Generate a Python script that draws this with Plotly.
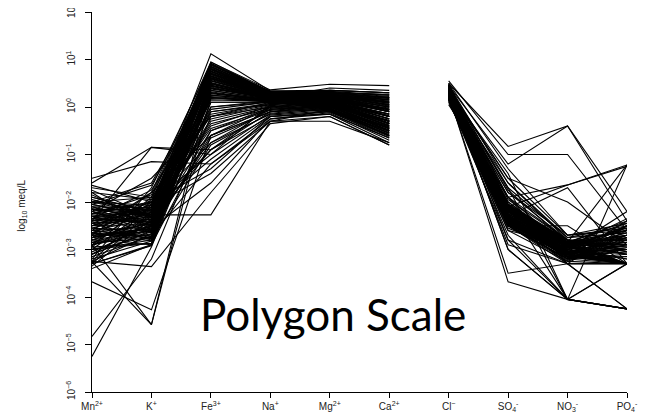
import plotly.graph_objects as go

# Categories (ions) and tick labels
ions = ["Mn2+", "K+", "Fe3+", "Na+", "Mg2+", "Ca2+", "Cl-", "SO4-", "NO3-", "PO4-"]
ion_labels = ["Mn<sup>2+</sup>", "K<sup>+</sup>", "Fe<sup>3+</sup>", "Na<sup>+</sup>",
              "Mg<sup>2+</sup>", "Ca<sup>2+</sup>", "Cl<sup>−</sup>",
              "SO<sub>4</sub><sup>-</sup>", "NO<sub>3</sub><sup>-</sup>", "PO<sub>4</sub><sup>-</sup>"]
y_exponents = [-6, -5, -4, -3, -2, -1, 0, 1, 2]
y_labels = ["10<sup>" + (str(e) if e >= 0 else "−" + str(-e)) + "</sup>" for e in y_exponents]

# log10 meq/L per sample
mn = [-2.4, -2.6, -2.1, -3.0, -2.8, -2.2, -1.9, -3.2, -2.5, -2.7,
      -2.3, -2.9, -2.0, -3.3, -2.45, -2.65, -2.15, -2.85, -2.35, -3.1,
      -2.55, -2.75, -2.05, -2.95, -2.25, -2.6, -3.05, -2.4, -2.7, -1.95,
      -2.5, -2.8, -2.2, -3.15, -2.35, -2.65, -2.1, -2.9, -2.45, -3.25,
      -2.3, -2.75, -2.0, -2.6, -2.85, -2.15, -3.0, -2.4, -2.55, -2.25,
      -2.5, -2.8, -2.2, -3.1, -2.4, -2.7, -2.0, -2.9, -2.3, -2.6,
      -3.3, -2.45, -2.15, -2.75, -1.8, -3.0, -2.35, -2.65, -2.05, -2.9,
      -1.5, -2.4, -1.6, -5.25, -4.83, -3.68, -3.26, -2.9, -3.25, -2.0,
      -1.7, -3.4, -2.0, -2.6, -1.8, -2.9, -2.2, -3.35, -1.65, -2.45,
      -3.2, -2.1, -2.75, -1.9, -3.0, -2.35, -2.8, -1.75, -3.3, -2.25,
      -2.65, -2.05, -3.1, -2.5, -1.85, -2.95, -2.3, -3.25, -2.15, -2.7]
k = [-2.32, -2.52, -2.12, -2.72, -2.42, -2.62, -2.22, -2.82, -2.12, -2.57,
     -2.37, -2.67, -2.07, -2.92, -2.27, -2.47, -2.17, -2.77, -2.42, -2.62,
     -2.22, -2.52, -2.32, -2.87, -2.02, -2.72, -2.47, -2.17, -2.62, -2.27,
     -2.47, -2.32, -2.52, -2.72, -2.12, -2.82, -2.42, -2.57, -2.37, -2.67,
     -2.22, -2.42, -2.17, -2.77, -2.52, -2.32, -2.87, -2.07, -2.62, -2.27,
     -2.3, -2.6, -2.0, -2.4, -2.2, -2.7, -1.9, -2.5, -2.1, -2.35,
     -2.9, -2.0, -2.25, -2.55, -1.95, -2.8, -2.45, -2.15, -2.3, -2.6,
     -1.15, -0.85, -0.85, -2.95, -3.2, -4.27, -4.58, -4.58, -3.36, -2.27,
     -1.9, -2.9, -1.6, -1.8, -2.6, -2.0, -1.5, -2.35, -2.0, -2.8,
     -1.7, -2.45, -1.95, -2.2, -2.1, -1.75, -2.9, -2.3, -2.2, -1.85,
     -2.75, -1.65, -2.6, -2.05, -2.4, -1.9, -2.65, -2.05, -2.5, -1.8]
fe = [0.8, 0.6, 0.9, 0.5, 0.7, 0.3, 0.85, 0.4, 1.12, 0.2,
      0.65, 0.55, 0.75, 0.35, 0.88, 0.45, 0.7, 0.25, 0.6, 0.5,
      0.82, 0.15, 0.68, 0.42, 0.92, 0.58, 0.28, 0.78, 0.48, 0.62,
      0.72, 0.38, 0.86, 0.52, 0.66, 0.32, 0.9, 0.44, 0.76, 0.18,
      0.8, 0.46, 0.94, 0.56, 0.3, 0.74, 0.4, 0.84, 0.22, 0.64,
      -0.3, -0.6, -0.1, -0.9, -0.45, -1.2, -0.2, -0.75, -1.4, 0.0,
      -0.5, -1.0, -0.35, -1.6, -0.15, -0.8, -0.05, -1.1, -0.25, -0.65,
      -1.2, -1.0, -0.9, 0.1, -0.2, -0.6, 0.2, 0.5, -1.8, -2.27,
      0.7, 0.1, 0.6, -0.6, 0.8, 0.3, -0.2, 0.65, -1.3, 0.45,
      0.9, 0.0, 0.55, -0.9, 0.75, 0.2, 0.6, 0.35, -0.4, 0.85,
      -0.1, 0.5, 0.7, -0.75, 0.4, 0.8, 0.25, 0.62, -0.5, 0.95]
na = [0.27, 0.22, 0.32, 0.17, 0.24, 0.12, 0.30, 0.20, 0.34, 0.14,
      0.26, 0.22, 0.28, 0.16, 0.32, 0.18, 0.25, 0.15, 0.23, 0.19,
      0.29, 0.12, 0.24, 0.17, 0.33, 0.21, 0.14, 0.27, 0.20, 0.25,
      0.26, 0.18, 0.31, 0.21, 0.24, 0.15, 0.32, 0.19, 0.28, 0.13,
      0.29, 0.20, 0.36, 0.22, 0.16, 0.27, 0.18, 0.31, 0.14, 0.25,
      0.0, -0.1, 0.05, -0.2, -0.05, -0.25, 0.1, -0.15, -0.3, 0.13,
      -0.07, -0.17, -0.03, -0.25, 0.07, -0.13, 0.11, -0.2, 0.03, -0.1,
      -0.3, 0.05, 0.0, 0.1, 0.0, -0.1, 0.1, 0.2, -0.35, -0.3,
      0.3, 0.1, 0.25, 0.0, 0.28, 0.15, 0.05, 0.22, -0.2, 0.18,
      0.3, 0.1, 0.2, -0.1, 0.26, 0.12, 0.24, 0.16, 0.02, 0.28,
      0.08, 0.21, 0.25, -0.05, 0.18, 0.27, 0.13, 0.23, 0.0, 0.31]
mg = [0.1, 0.2, 0.3, 0.0, 0.15, -0.05, 0.25, 0.05, 0.35, 0.1,
      0.18, 0.05, 0.28, -0.02, 0.22, 0.12, 0.3, 0.02, 0.16, 0.08,
      0.2, -0.08, 0.26, 0.04, 0.32, 0.1, 0.0, 0.24, 0.06, 0.14,
      0.22, 0.03, 0.27, 0.09, 0.19, -0.03, 0.3, 0.07, 0.23, -0.06,
      0.25, 0.05, 0.48, 0.11, 0.01, 0.21, 0.04, 0.29, -0.04, 0.17,
      0.1, 0.0, 0.15, -0.1, 0.05, -0.15, 0.2, -0.05, -0.2, 0.12,
      0.02, -0.08, 0.08, -0.12, 0.18, -0.02, 0.14, -0.1, 0.1, 0.0,
      -0.05, 0.2, 0.15, 0.2, 0.1, 0.05, 0.25, 0.3, -0.2, -0.3,
      0.35, 0.05, 0.2, -0.1, 0.3, 0.2, 0.12, 0.18, -0.15, 0.28,
      0.25, 0.0, 0.4, -0.05, 0.15, 0.22, 0.1, 0.3, -0.08, 0.33,
      0.06, 0.26, 0.12, 0.02, 0.35, 0.2, 0.08, 0.27, 0.04, 0.3]
ca = [-0.2, 0.0, 0.2, -0.3, -0.1, -0.45, 0.1, -0.35, 0.3, -0.25,
      -0.05, -0.4, 0.15, -0.55, 0.05, -0.15, 0.25, -0.5, -0.1, -0.3,
      0.0, -0.6, 0.12, -0.38, 0.22, -0.2, -0.42, 0.08, -0.28, -0.02,
      0.05, -0.33, 0.18, -0.25, -0.08, -0.48, 0.27, -0.3, 0.03, -0.58,
      0.1, -0.35, 0.45, -0.18, -0.45, 0.02, -0.4, 0.2, -0.52, -0.06,
      -0.3, -0.5, -0.2, -0.65, -0.4, -0.75, -0.1, -0.55, -0.8, -0.15,
      -0.45, -0.6, -0.35, -0.7, -0.05, -0.5, -0.25, -0.62, -0.3, -0.42,
      -0.6, 0.1, -0.1, 0.0, -0.2, -0.3, 0.15, 0.2, -0.8, -0.75,
      0.3, -0.3, 0.0, -0.5, 0.15, -0.2, -0.35, -0.1, -0.65, 0.1,
      0.05, -0.45, 0.35, -0.55, -0.15, -0.05, -0.3, 0.2, -0.6, 0.25,
      -0.4, 0.08, -0.2, -0.5, 0.3, -0.05, -0.35, 0.12, -0.45, 0.18]
cl = [0.4, 0.35, 0.45, 0.3, 0.25, 0.2, 0.42, 0.32, 0.48, 0.28,
      0.38, 0.22, 0.44, 0.18, 0.4, 0.3, 0.46, 0.24, 0.36, 0.27,
      0.41, 0.16, 0.39, 0.26, 0.47, 0.33, 0.21, 0.43, 0.29, 0.37,
      0.38, 0.25, 0.45, 0.31, 0.36, 0.2, 0.47, 0.28, 0.4, 0.17,
      0.42, 0.3, 0.49, 0.32, 0.23, 0.39, 0.26, 0.44, 0.19, 0.35,
      0.3, 0.25, 0.35, 0.2, 0.28, 0.15, 0.4, 0.22, 0.12, 0.33,
      0.27, 0.18, 0.3, 0.14, 0.38, 0.24, 0.34, 0.19, 0.31, 0.26,
      0.5, 0.55, 0.45, 0.35, 0.3, 0.25, 0.4, 0.38, 0.1, 0.05,
      0.45, 0.2, 0.42, 0.3, 0.36, 0.28, 0.4, 0.33, 0.15, 0.44,
      0.37, 0.23, 0.5, 0.18, 0.35, 0.32, 0.27, 0.41, 0.2, 0.46,
      0.25, 0.39, 0.3, 0.22, 0.43, 0.34, 0.26, 0.38, 0.24, 0.44]
so4 = [-2.2, -2.3, -2.1, -2.4, -2.25, -2.35, -2.15, -2.3, -2.05, -2.4,
       -2.2, -2.45, -2.1, -2.5, -2.18, -2.3, -2.08, -2.42, -2.22, -2.35,
       -2.13, -2.48, -2.16, -2.38, -2.07, -2.28, -2.43, -2.12, -2.32, -2.2,
       -2.17, -2.37, -2.1, -2.3, -2.24, -2.44, -2.06, -2.34, -2.15, -2.46,
       -2.11, -2.33, -2.04, -2.27, -2.4, -2.16, -2.36, -2.09, -2.42, -2.21,
       -2.2, -2.0, -1.8, -2.4, -1.6, -2.5, -1.9, -2.3, -2.6, -1.4,
       -2.1, -2.7, -1.7, -2.8, -3.0, -2.9, -2.3, -1.9, -2.1, -3.68,
       -0.83, -1.0, -1.2, -1.5, -2.3, -3.5, -3.0, -2.8, -2.5, -1.9,
       -1.9, -2.5, -1.7, -2.4, -2.3, -2.1, -1.5, -2.45, -2.55, -2.15,
       -2.0, -2.35, -1.3, -2.6, -2.25, -1.8, -2.5, -2.1, -2.45, -1.6,
       -2.3, -2.05, -2.4, -2.2, -1.95, -2.35, -2.5, -2.2, -2.45, -1.75]
no3 = [-3.05, -2.95, -2.85, -3.15, -3.0, -3.1, -2.9, -3.2, -2.85, -3.05,
       -2.95, -3.15, -2.8, -3.25, -2.93, -3.03, -2.87, -3.13, -2.97, -3.07,
       -2.91, -3.2, -2.85, -3.15, -2.83, -3.01, -3.12, -2.89, -3.05, -2.95,
       -2.92, -3.1, -2.87, -3.05, -2.97, -3.17, -2.81, -3.08, -2.9, -3.23,
       -2.88, -3.06, -2.8, -3.02, -3.11, -2.91, -3.09, -2.85, -3.15, -2.94,
       -2.8, -2.9, -2.7, -3.0, -2.8, -3.3, -3.0, -3.3, -2.9, -4.05,
       -4.05, -4.05, -4.05, -3.3, -4.05, -3.3, -2.85, -1.64, -1.64, -4.05,
       -0.4, -1.0, -0.4, -2.0, -1.7, -3.3, -4.05, -4.05, -2.5, -3.3,
       -2.8, -3.2, -2.75, -3.1, -3.0, -2.9, -2.7, -3.15, -3.05, -2.85,
       -2.95, -3.1, -2.7, -3.25, -2.9, -2.8, -3.2, -2.85, -3.15, -2.75,
       -3.0, -2.9, -3.1, -3.0, -2.8, -3.05, -3.2, -2.95, -3.1, -2.85]
po4 = [-3.0, -2.7, -3.3, -2.9, -2.5, -3.3, -2.6, -3.1, -2.8, -3.3,
       -3.0, -2.4, -3.3, -2.8, -2.55, -3.2, -2.9, -3.3, -2.65, -3.0,
       -3.3, -2.75, -2.45, -3.3, -3.1, -2.85, -3.3, -2.6, -3.0, -2.35,
       -3.3, -2.7, -3.0, -3.3, -2.5, -3.15, -2.8, -3.3, -2.95, -2.6,
       -3.3, -2.75, -3.05, -3.3, -2.5, -2.9, -3.3, -2.7, -3.0, -3.3,
       -3.0, -3.3, -2.6, -3.3, -2.8, -3.3, -2.2, -3.3, -2.7, -4.25,
       -4.25, -4.25, -3.3, -3.3, -4.25, -2.5, -1.22, -1.22, -1.25, -4.25,
       -2.2, -2.6, -2.4, -2.9, -3.3, -4.25, -3.3, -1.22, -3.3, -4.25,
       -2.9, -3.0, -2.5, -3.3, -2.7, -3.1, -2.45, -3.3, -2.8, -2.6,
       -3.2, -2.9, -2.55, -3.3, -2.75, -3.0, -3.3, -2.4, -3.05, -2.65,
       -3.3, -2.85, -2.5, -3.3, -2.95, -3.3, -2.7, -3.1, -3.3, -2.6]

cations = [mn, k, fe, na, mg, ca]
anions = [cl, so4, no3, po4]

xs, ys = [], []
for i in range(len(mn)):
    for j, col in enumerate(cations):
        xs.append(j)
        ys.append(col[i])
    xs.append(None); ys.append(None)
    for j, col in enumerate(anions):
        xs.append(len(cations) + j)
        ys.append(col[i])
    xs.append(None); ys.append(None)

fig = go.Figure()
fig.add_trace(go.Scatter(x=xs, y=ys, mode="lines",
                         line=dict(color="black", width=1.1),
                         connectgaps=False, hoverinfo="skip", showlegend=False))

axis_font = dict(family="Liberation Sans, Arial, sans-serif", size=10, color="#222")

# the page body has an 8px margin, so the figure is sized to end at the window edge
fig.update_layout(
    width=644, height=407,
    margin=dict(l=84, r=25, t=4, b=23, autoexpand=False),
    paper_bgcolor="white", plot_bgcolor="white",
    showlegend=False,
    xaxis=dict(range=[0, 9], tickmode="array", tickvals=list(range(10)), ticktext=ion_labels,
               showline=True, linecolor="black", linewidth=1, ticks="outside", ticklen=5,
               tickcolor="black", showgrid=False, zeroline=False, tickfont=axis_font,
               automargin=False, ticklabeloverflow="allow"),
    yaxis=dict(range=[-6, 2], tickmode="array", tickvals=y_exponents, ticktext=y_labels,
               tickangle=-90, showline=True, linecolor="black", linewidth=1, ticks="outside",
               ticklen=6, tickcolor="black", showgrid=False, zeroline=False, tickfont=axis_font,
               automargin=False, ticklabelstandoff=6, ticklabeloverflow="allow"),
    annotations=[
        dict(text="log<sub>10</sub> meq/L", xref="paper", yref="paper", x=-0.131, y=0.49,
             textangle=-90, showarrow=False, xanchor="center", yanchor="middle",
             font=dict(family="Liberation Sans, Arial, sans-serif", size=10, color="#222")),
        dict(text="Polygon Scale", xref="x", yref="y", x=4.05, y=-4.35, showarrow=False,
             xanchor="center", yanchor="middle",
             font=dict(family="Lato, Open Sans, sans-serif", size=44, color="black")),
    ],
)

fig.write_html("out.html")
